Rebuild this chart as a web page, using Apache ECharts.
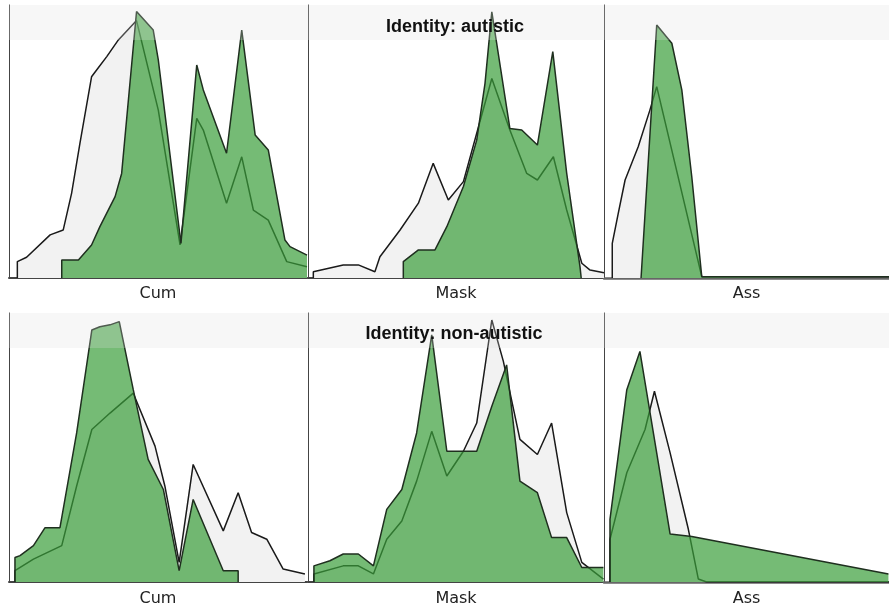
<!DOCTYPE html>
<html>
<head>
<meta charset="utf-8">
<script src="https://cdn.jsdelivr.net/npm/echarts@6/dist/echarts.min.js"></script>
<style>html,body{margin:0;padding:0;background:#fff;}#c{width:889px;height:608px;}</style>
</head>
<body>
<div id="c"></div>
<script>
// Panel labels and row titles
var panelNames = ['Cum', 'Mask', 'Ass'];
var rowTitles = ['Identity: autistic', 'Identity: non-autistic'];

// Row 1 (autistic) — [x, density] pairs, x 0..100 across panel, density 0..100
var cumAutGray = [[2.8,0],[2.8,6.0],[5.9,7.6],[13.8,15.8],[18.2,17.6],[21.0,31.0],[23.8,49.3],[27.7,73.7],[29.4,76.2],[32.8,81.1],[36.7,87.2],[42.8,94.3],[50.1,61.5],[57.4,12.1],[63.0,58.5],[65.2,54.2],[73.0,27.4],[78.1,44.4],[82.0,24.9],[87.0,21.2],[93.2,6.0],[100,4.1]];
var cumAutGreen = [[17.7,0],[17.7,6.6],[23.3,6.6],[27.7,12.1],[30.5,18.8],[35.6,29.8],[37.8,38.3],[42.8,97.6],[48.4,90.8],[50.1,79.9],[57.7,12.7],[63.0,78.0],[65.2,68.9],[73.0,45.7],[78.1,90.8],[82.6,52.4],[87.0,46.9],[92.6,13.9],[94.3,11.5],[100,8.4]];
var maskAutGray = [[1.8,0],[1.8,2.3],[11.9,4.8],[17.0,4.8],[22.6,2.3],[24.3,7.8],[31.1,17.6],[37.3,27.4],[42.3,42.0],[47.4,28.6],[52.5,35.3],[57.0,53.0],[62.1,73.1],[68.2,54.2],[73.9,38.3],[77.5,35.9],[82.9,44.4],[87.4,24.9],[92.5,5.4],[95.3,2.9],[100,1.9]];
var maskAutGreen = [[32.2,0],[32.2,6.0],[37.3,10.3],[42.9,10.3],[46.9,18.8],[52.5,33.5],[57.0,50.5],[59.8,71.3],[62.1,97.5],[68.2,54.8],[72.2,54.2],[77.5,48.7],[82.7,82.9],[87.4,38.3],[91.9,4.1],[92.3,0]];
var assAutGray = [[2.9,0],[2.9,12.7],[5.0,23.7],[7.4,35.9],[12.0,48.1],[16.1,61.5],[18.5,70.1],[34.3,0.5],[100,0.5]];
var assAutGreen = [[13.0,0],[18.5,92.7],[23.8,86.0],[27.3,68.9],[30.8,37.1],[34.3,0.5],[100,0.5]];

// Row 2 (non-autistic)
var cumNonGray = [[2.0,0],[2.0,4.2],[8.2,8.5],[17.7,13.5],[22.7,35.7],[27.8,56.7],[33.9,62.8],[41.7,70.2],[49.0,50.5],[52.3,35.7],[57.1,7.3],[61.8,43.7],[71.9,19.0],[76.9,33.2],[81.4,18.4],[86.5,15.9],[92.0,4.8],[99.3,3.0]];
var cumNonGreen = [[2.0,0],[2.0,9.1],[3.7,9.8],[8.2,13.5],[12.1,20.2],[17.1,20.2],[22.7,55.4],[27.8,93.7],[30.5,94.9],[33.9,95.6],[37.0,96.8],[41.7,71.5],[46.7,45.6],[51.8,34.4],[57.1,4.2],[61.8,30.7],[71.9,4.2],[76.9,4.2],[76.9,0]];
var maskNonGray = [[2.0,0],[2.0,3.0],[11.9,6.0],[17.0,6.0],[22.1,3.0],[26.6,15.9],[31.7,22.7],[36.7,37.5],[41.8,56.0],[46.9,39.4],[52.5,48.6],[57.0,59.1],[62.1,97.4],[66.0,82.0],[71.6,53.0],[77.5,47.4],[82.3,59.1],[87.4,25.8],[92.5,7.3],[99.8,1.1]];
var maskNonGreen = [[2.0,0],[2.0,6.0],[7.4,7.9],[11.9,10.4],[17.0,10.4],[22.1,6.0],[26.6,27.0],[31.7,34.4],[36.7,55.4],[41.8,91.9],[46.9,48.6],[57.0,48.6],[62.1,65.3],[67.1,80.7],[71.6,37.5],[77.5,33.2],[82.3,16.5],[87.4,16.5],[92.5,5.4],[99.8,5.4]];
var assNonGray = [[2.1,0],[2.1,15.9],[8.0,40.6],[14.4,56.7],[17.7,70.9],[23.2,48.0],[29.6,19.6],[33.1,1.1],[36,0],[100,0]];
var assNonGreen = [[2.1,0],[2.1,23.3],[8.0,71.5],[12.6,85.7],[23.2,17.8],[30.8,16.9],[99.8,3.0]];

var panels = [
  [cumAutGray, cumAutGreen], [maskAutGray, maskAutGreen], [assAutGray, assAutGreen],
  [cumNonGray, cumNonGreen], [maskNonGray, maskNonGreen], [assNonGray, assNonGreen]
];

var colLeft = [9, 308, 604];
var colWidth = [298, 296, 285];
var rowTop = [5, 313];
var rowHeight = [273, 270];
var rowNameGap = [8, 9];

var grids = [], xAxes = [], yAxes = [], series = [];
for (var i = 0; i < 6; i++) {
  var r = Math.floor(i / 3), c = i % 3;
  grids.push({left: colLeft[c], top: rowTop[r], width: colWidth[c], height: rowHeight[r]});
  xAxes.push({
    type: 'value', gridIndex: i, min: 0, max: 100,
    name: panelNames[c], nameLocation: 'middle', nameGap: rowNameGap[r],
    nameTextStyle: {color: '#222', fontSize: 16, fontFamily: 'DejaVu Sans', verticalAlign: 'top', lineHeight: 16},
    axisLine: {show: true, lineStyle: {color: (c === 2 ? '#666' : '#444'), width: (c === 2 ? 2.5 : 2)}},
    axisTick: {show: false}, axisLabel: {show: false}, splitLine: {show: false}
  });
  yAxes.push({
    type: 'value', gridIndex: i, min: 0, max: 100,
    axisLine: {show: true, lineStyle: {color: '#444', width: 1}},
    axisTick: {show: false}, axisLabel: {show: false}, splitLine: {show: false}
  });
  series.push({
    type: 'line', xAxisIndex: i, yAxisIndex: i, data: panels[i][0],
    symbol: 'none', smooth: false, z: 2,
    lineStyle: {color: '#1a1a1a', width: 1.5},
    areaStyle: {color: '#f2f2f2', opacity: 1}
  });
  series.push({
    type: 'line', xAxisIndex: i, yAxisIndex: i, data: panels[i][1],
    symbol: 'none', smooth: false, z: 3,
    lineStyle: {color: '#1f2f1f', width: 1.5},
    areaStyle: {color: 'rgb(58,158,58)', opacity: 0.7}
  });
}

var chart = echarts.init(document.getElementById('c'), null, {renderer: 'canvas'});
chart.setOption({
  backgroundColor: '#ffffff',
  animation: false,
  grid: grids, xAxis: xAxes, yAxis: yAxes, series: series,
  graphic: [
    {type: 'rect', z: 50, silent: true, shape: {x: 9, y: 5, width: 880, height: 35}, style: {fill: 'rgba(225,225,225,0.25)'}},
    {type: 'rect', z: 50, silent: true, shape: {x: 9, y: 313, width: 880, height: 35}, style: {fill: 'rgba(225,225,225,0.25)'}},
    {type: 'text', z: 60, x: 455, y: 27, style: {text: rowTitles[0], fill: '#111', font: 'bold 18px "Liberation Sans", Arial, sans-serif', align: 'center', verticalAlign: 'middle'}},
    {type: 'text', z: 60, x: 454, y: 334, style: {text: rowTitles[1], fill: '#111', font: 'bold 18px "Liberation Sans", Arial, sans-serif', align: 'center', verticalAlign: 'middle'}}
  ]
});
</script>
</body>
</html>
